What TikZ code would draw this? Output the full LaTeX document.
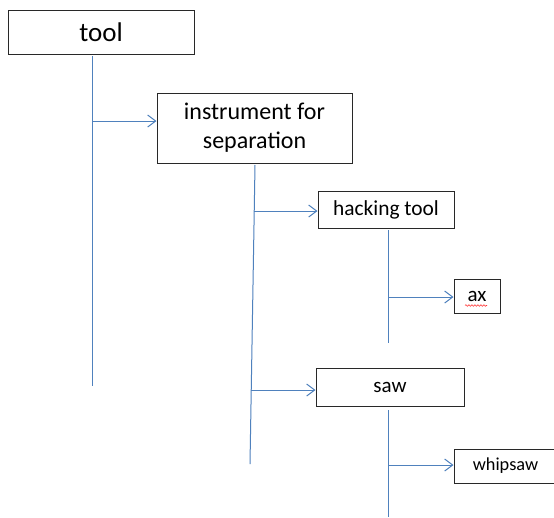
\documentclass[tikz,border=0pt]{standalone}
\usepackage{fontspec}
\setmainfont{Carlito}
\usetikzlibrary{arrows.meta,decorations.pathmorphing}
\definecolor{lineblue}{RGB}{79,129,189}
\definecolor{boxline}{RGB}{40,40,40}
\begin{document}
\begin{tikzpicture}[x=1pt,y=-1pt,
  box/.style={draw=boxline, line width=1pt, inner sep=0pt, rectangle, align=center, fill=white},
  conn/.style={draw=lineblue, line width=1pt},
  arr/.style={conn, -{Straight Barb[length=8pt,width=12pt]}}]
\useasboundingbox (0,0) rectangle (554,517);
\clip (0,0) rectangle (554,517);
\fill[white] (0,0) rectangle (554,517);
% boxes
\node[box, minimum width=186pt, minimum height=44pt, font=\fontsize{27}{32}\selectfont] (tool) at (101,32) {tool};
\node[box, minimum width=195pt, minimum height=70pt, font=\fontsize{24}{29}\selectfont] (instr) at (254.5,128) {instrument for\\separation};
\node[box, minimum width=136pt, minimum height=37pt, font=\fontsize{21.4}{26}\selectfont] (hack) at (386,209.5) {hacking tool};
\node[box, minimum width=46pt, minimum height=34pt, font=\fontsize{21}{25}\selectfont] (ax) at (477,296) {ax};
\node[box, minimum width=148pt, minimum height=38pt, font=\fontsize{21}{25}\selectfont] (saw) at (390,387) {saw};
\node[box, minimum width=103pt, minimum height=34pt, font=\fontsize{18.3}{22}\selectfont] (whip) at (505.5,466) {whipsaw};
% spell-check underline
\draw[red!80!white, line width=0.6pt, decorate, decoration={snake, amplitude=0.8pt, segment length=3pt}]
  ([xshift=-12pt,yshift=8pt]ax.south) -- ([xshift=10pt,yshift=8pt]ax.south);
% trunk lines
\coordinate (tv0) at (92,56);
\coordinate (tv1) at (92,386);
\coordinate (ta) at (92,121);
\coordinate (iv0) at (255,165);
\coordinate (iv1) at (250,464);
\coordinate (ia1) at (254.2,211);
\coordinate (ia2) at (251.2,390);
\coordinate (hv0) at (388,230);
\coordinate (hv1) at (388,343);
\coordinate (ha) at (388,297);
\coordinate (sv0) at (388,410);
\coordinate (sv1) at (388,517);
\coordinate (sa) at (388,465);
\draw[conn] (tv0) -- (tv1);
\draw[conn] (iv0) -- (iv1);
\draw[conn] (hv0) -- (hv1);
\draw[conn] (sv0) -- (sv1);
% arrows
\draw[arr] (ta) -- (ta -| instr.west);
\draw[arr] (ia1) -- (ia1 -| hack.west);
\draw[arr] (ia2) -- (ia2 -| saw.west);
\draw[arr] (ha) -- (ha -| ax.west);
\draw[arr] (sa) -- (sa -| whip.west);
\end{tikzpicture}
\end{document}
